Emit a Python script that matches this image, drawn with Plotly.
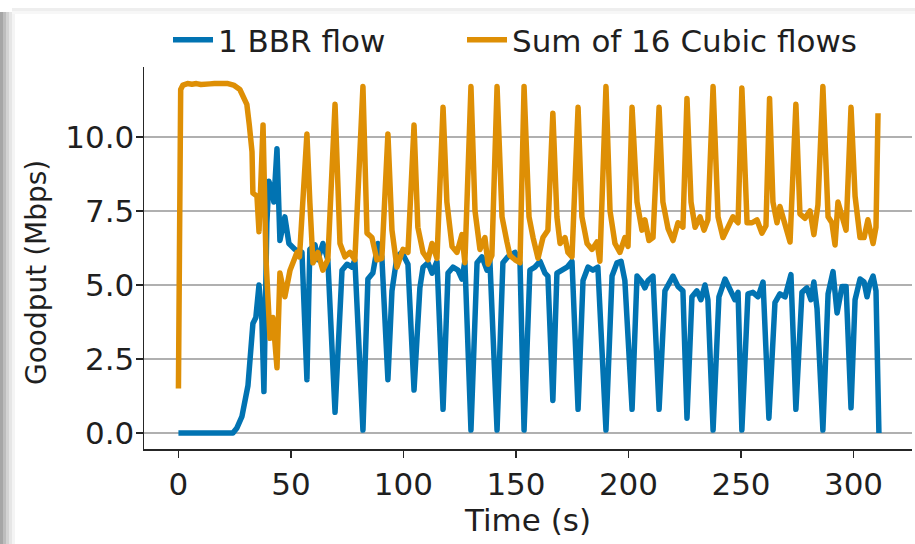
import plotly.graph_objects as go

# ---- data ----
cubic_t = [0, 1, 2, 4, 6, 8, 10, 12, 14, 16, 18, 20, 22, 24.5, 27.3, 30.4, 31.5, 32.7, 33.1, 34.9, 35.8,
           37.6, 38.9, 40.7, 42.0, 43.8, 45.1, 47.3, 49.6, 52.7, 53.8, 57.1, 58.4, 59.8, 62.0, 64.2, 66.4,
           69.6, 71.8, 74.0, 76.2, 78.4, 82.0, 83.8, 86.0, 88.2, 90.4, 93.1, 94.9, 97.1, 99.8, 102.0,
           104.7, 106.4, 108.7, 110.9, 112.7, 114.9, 117.6, 119.3, 121.6, 123.8, 126.0, 127.3, 130.0,
           131.8, 134.0, 136.2, 137.6, 139.3, 141.6, 143.8, 146.0, 147.3, 149.6, 151.8, 153.6, 155.8,
           157.6, 159.8, 162.0, 164.2, 166.4, 168.2, 169.6, 171.8, 173.1, 174.9, 177.6, 179.3, 181.6,
           183.8, 186.0, 187.3, 190.0, 191.8, 194.0, 196.2, 198.4, 199.8, 201.6, 203.8, 206.0, 207.3,
           209.1, 210.9, 213.6, 215.3, 217.6, 219.8, 222.0, 224.2, 226.0, 227.8, 229.6, 231.8, 233.6,
           235.3, 237.6, 239.8, 242.0, 244.2, 246.4, 248.7, 250.4, 252.7, 254.9, 257.1, 259.3, 261.1,
           262.7, 264.2, 266.0, 267.3, 269.6, 271.8, 274.4, 276.2, 278.4, 280.7, 282.4, 284.2, 286.4,
           288.7, 290.4, 291.8, 293.1, 294.9, 296.7, 298.9, 300.7, 302.9, 304.7, 306.4, 308.7, 310.0,
           310.9]
cubic_goodput = [1.5, 11.6, 11.75, 11.8, 11.78, 11.8, 11.77, 11.8, 11.79, 11.8, 11.78, 11.8, 11.8, 11.75,
                 11.6, 11.1, 10.4, 9.5, 8.1, 8.0, 6.8,
                 10.4, 5.9, 3.2, 3.9, 2.2, 5.4, 4.6, 5.5, 6.1, 5.95, 10.1, 7.8, 5.75, 6.1, 5.5, 5.85,
                 11.1, 6.4, 5.95, 6.1, 5.85, 11.7, 6.75, 6.6, 5.85, 5.9, 10.1, 6.85, 5.6, 6.2, 6.1,
                 10.4, 6.95, 6.1, 5.85, 6.4, 5.9, 11.0, 7.8, 6.3, 6.1, 6.7, 5.75, 11.7,
                 7.5, 6.2, 6.6, 5.7, 6.0, 11.7, 7.3, 6.45, 6.0, 5.85, 5.75, 11.7, 7.3,
                 6.6, 5.9, 6.6, 6.85, 10.8, 7.3, 6.4, 6.6, 6.1, 5.95, 11.0, 7.3, 6.4,
                 6.2, 6.45, 5.8, 11.7, 7.5, 6.4, 6.1, 6.6, 6.3, 11.0, 7.8, 6.85, 7.2,
                 6.5, 6.6, 11.0, 7.8, 6.9, 6.5, 7.1, 6.95, 11.3, 7.8, 6.95, 7.3, 6.85,
                 7.2, 11.7, 7.3, 6.6, 6.95, 7.3, 7.1, 11.65, 7.1, 7.1, 7.2, 6.75, 7.0,
                 11.3, 7.8, 7.1, 7.65, 7.1, 6.45, 11.1, 7.4, 7.25, 7.5, 6.7, 7.7, 11.7,
                 7.3, 7.1, 6.35, 7.8, 7.3, 6.85, 11.0, 8.0, 6.6, 6.6, 7.2, 6.4, 6.95,
                 10.8]

bbr_t = [0, 4, 8, 12, 16, 20, 24.2, 26.0, 28.2, 30.9, 33.1, 34.4, 35.8, 37.1, 38.0, 39.3, 40.2, 41.6,
         42.4, 43.8, 45.1, 47.3, 49.1, 51.8, 54.9, 57.1, 58.4, 60.7, 62.0, 64.2, 66.4, 69.6, 72.7,
         74.9, 77.1, 78.4, 82.0, 84.2, 86.4, 88.7, 90.4, 93.1, 94.9, 97.1, 99.3, 102.0, 104.7, 107.3,
         108.7, 110.9, 112.7, 114.9, 117.6, 119.8, 122.0, 124.2, 126.0, 127.3, 130.0, 132.7, 134.9,
         137.1, 138.4, 141.6, 144.2, 146.4, 149.6, 151.8, 153.6, 156.2, 158.4, 160.7, 162.9, 164.2,
         166.4, 168.2, 170.4, 172.7, 174.9, 177.6, 179.8, 182.0, 184.2, 186.4, 190.0, 192.7, 194.9,
         196.7, 198.4, 201.6, 203.8, 206.0, 207.3, 208.7, 210.9, 213.6, 216.2, 218.4, 219.8, 222.0,
         224.2, 226.0, 228.2, 230.4, 232.2, 234.0, 235.3, 237.6, 240.2, 242.9, 245.1, 247.3, 248.7,
         250.4, 253.1, 255.3, 257.6, 259.8, 262.4, 265.1, 267.3, 269.6, 272.2, 274.4, 277.1, 279.3,
         281.1, 282.4, 283.8, 286.4, 288.7, 290.9, 292.7, 294.9, 296.7, 298.9, 300.7, 302.9, 304.7,
         306.0, 307.3, 308.7, 310.0, 311.3]
bbr_goodput = [0, 0, 0, 0, 0, 0, 0.0, 0.17, 0.55, 1.6, 3.7, 3.9, 5.0, 3.8, 1.4, 7.1, 8.5, 8.2,
               7.8, 9.6, 6.5, 7.3, 6.4, 6.2, 6.1, 1.8, 6.2, 6.35, 5.85, 6.4, 5.85, 0.7, 5.5,
               5.7, 5.6, 5.85, 0.1, 5.2, 5.4, 6.4, 5.95, 1.8, 4.8, 5.95, 6.1, 5.7, 1.45, 4.9,
               5.6, 5.75, 5.4, 5.8, 0.8, 5.4, 5.6, 5.5, 5.2, 5.8, 0.1, 5.75, 5.95,
               5.5, 5.85, 0.1, 5.75, 5.95, 6.1, 5.75, 0.1, 5.5, 5.6, 5.8, 5.4, 5.3,
               1.1, 5.4, 5.5, 5.6, 5.8, 0.8, 5.15, 5.6, 5.5, 5.6, 0.1, 5.3, 5.75,
               5.8, 5.15, 0.8, 5.3, 5.1, 4.9, 5.15, 5.3, 0.8, 4.8, 5.15, 5.3, 4.95,
               4.8, 0.5, 4.6, 4.8, 4.5, 5.0, 4.5, 0.1, 4.6, 5.2, 4.8, 4.5, 4.75,
               0.1, 4.7, 4.75, 4.6, 5.1, 0.5, 4.4, 4.7, 4.6, 5.35, 0.8, 4.75, 4.9,
               4.5, 5.1, 4.2, 0.1, 4.7, 5.45, 4.05, 4.95, 4.95, 0.85, 4.5, 5.2, 5.1,
               4.6, 5.05, 5.3, 4.8, 0.0]

x_ticks = [0, 50, 100, 150, 200, 250, 300]
y_ticks = [0.0, 2.5, 5.0, 7.5, 10.0]
series_names = ["1 BBR flow", "Sum of 16 Cubic flows"]
x_title = "Time (s)"
y_title = "Goodput (Mbps)"

BLUE = "#0173B2"
ORANGE = "#DE8F05"
FONT = "DejaVu Sans"
TXT = "#1f1f1f"
LW = 5.5

fig = go.Figure()
fig.add_trace(go.Scatter(x=bbr_t, y=bbr_goodput, mode="lines", name=series_names[0],
                         line=dict(color=BLUE, width=LW), legend="legend"))
fig.add_trace(go.Scatter(x=cubic_t, y=cubic_goodput, mode="lines", name=series_names[1],
                         line=dict(color=ORANGE, width=LW), legend="legend2"))

W, H = 915, 544
ml, mr, mt, mb = 144, 3, 67, 95
pw, ph = W - ml - mr, H - mt - mb


def px(xp):
    return (xp - ml) / pw


def py(yp):
    return (H - mb - yp) / ph


shapes = []
# drop-shadow band of the original screenshot (left and top edges)
for (x0, x1, c) in [(0, 3, "#a6a6a6"), (3, 6, "#bdbdbd"), (6, 9, "#d3d3d3"),
                    (9, 12, "#e6e6e6"), (12, 15, "#f4f4f4")]:
    shapes.append(dict(type="rect", xref="paper", yref="paper",
                       x0=px(x0), x1=px(x1), y0=py(H), y1=py(12),
                       fillcolor=c, line=dict(width=0), layer="below"))
for (y0, y1, c) in [(8, 11, "#eeeeee"), (11, 14, "#f7f7f7")]:
    shapes.append(dict(type="rect", xref="paper", yref="paper",
                       x0=px(12), x1=px(W), y0=py(y1), y1=py(y0),
                       fillcolor=c, line=dict(width=0), layer="below"))

legend_common = dict(orientation="h", yanchor="middle", xanchor="left",
                     font=dict(family=FONT, size=31, color=TXT),
                     bgcolor="rgba(0,0,0,0)", itemwidth=40)

fig.update_layout(
    width=W, height=H,
    margin=dict(l=ml, r=mr, t=mt, b=mb, pad=0, autoexpand=False),
    paper_bgcolor="white", plot_bgcolor="white",
    font=dict(family=FONT, size=31, color=TXT),
    showlegend=True,
    legend=dict(x=px(168), y=py(40), **legend_common),
    legend2=dict(x=px(462), y=py(40), **legend_common),
    shapes=shapes,
    annotations=[dict(text=y_title, textangle=-90, xref="paper", yref="paper",
                      x=px(36), y=py(273), xanchor="center", yanchor="middle", showarrow=False,
                      font=dict(family=FONT, size=28, color=TXT))],
    xaxis=dict(range=[-15.3, 326.0], tickvals=x_ticks, ticktext=[str(v) for v in x_ticks],
               showgrid=False, zeroline=False, showline=True, linecolor="#262626", linewidth=1.5,
               ticks="outside", ticklen=7, tickwidth=1.5, tickcolor="#262626",
               tickfont=dict(family=FONT, size=31, color=TXT),
               title=dict(text=x_title, standoff=4, font=dict(family=FONT, size=31, color=TXT))),
    yaxis=dict(range=[-0.54, 12.36], tickvals=y_ticks, ticktext=[f"{v:.1f}" for v in y_ticks],
               showgrid=True, gridcolor="#b0b0b0", gridwidth=1.5, zeroline=False,
               showline=True, linecolor="#262626", linewidth=1.5,
               ticks="outside", ticklen=7, tickwidth=1.5, tickcolor="#262626",
               ticklabelstandoff=-5,
               tickfont=dict(family=FONT, size=31, color=TXT)),
)

post = ("document.body.style.margin='0px';"
        "document.querySelectorAll('.js-line').forEach(function(p){p.style.strokeLinejoin='round';});")
fig.write_html("out.html", config={"displayModeBar": False, "staticPlot": True}, post_script=post)
